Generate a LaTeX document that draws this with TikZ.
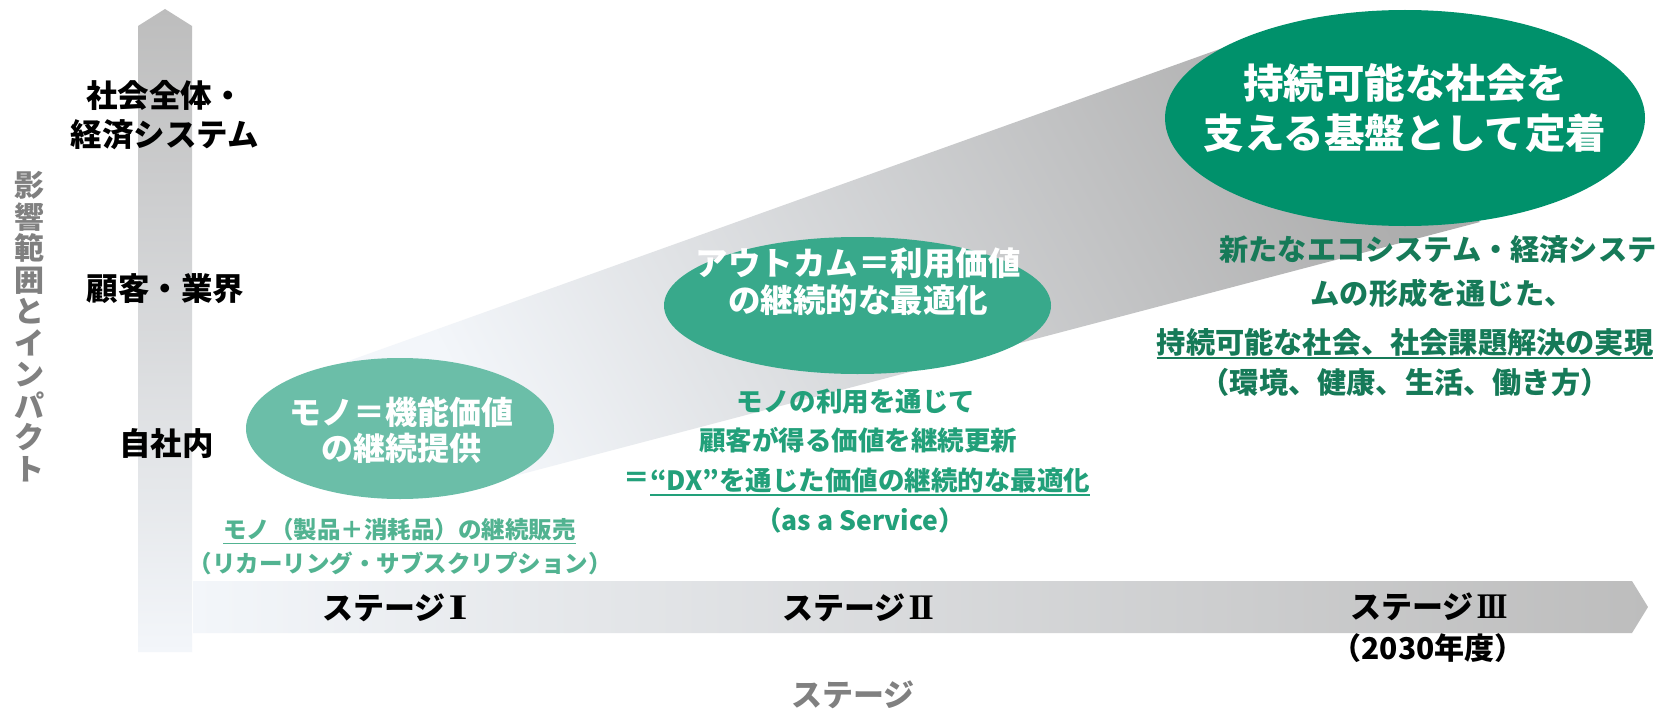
\documentclass[tikz,border=0pt]{standalone}
\usepackage{fontspec}
\usepackage{graphicx}
\setmainfont{Noto Sans CJK JP}
\newfontfamily\romfont{Liberation Serif}
\usetikzlibrary{shapes.geometric}
\definecolor{axdark}{HTML}{BDBDBD}
\definecolor{axlight}{HTML}{F3F6FA}
\definecolor{eA}{HTML}{6BBEA8}
\definecolor{eB}{HTML}{38A98B}
\definecolor{eC}{HTML}{00916B}
\definecolor{tA}{HTML}{52B391}
\definecolor{tB}{HTML}{22A07A}
\definecolor{tC}{HTML}{167A58}
\definecolor{axgray}{HTML}{808080}
\newcommand{\romnum}[2]{\hspace{0.1em}{\romfont\bfseries\fontsize{36}{36}\selectfont\scalebox{#1}[1]{#2}}}
\tikzset{
  txt/.style={inner sep=0, align=center, font=\bfseries\fontsize{#1}{#1}\selectfont},
  blob/.style={ellipse, inner sep=0, draw=none, fill=#1},
  uline/.style={line width=1.6pt, #1}
}
\begin{document}
\begin{tikzpicture}[x=1pt,y=-1pt]
\useasboundingbox (0,0) rectangle (1665,709);
\fill[white] (0,0) rectangle (1665,709);

% vertical axis arrow
\shade[top color=axdark, bottom color=axlight]
  (138,652) -- (138,26) -- (165,9) -- (192,26) -- (192,652) -- cycle;
% horizontal axis arrow
\shade[left color=axlight, right color=axdark]
  (193,581) -- (1632,581) -- (1648,607) -- (1632,633) -- (193,633) -- cycle;

% gray beam
\shade[top color=black!32, bottom color=axlight, shading angle=-62]
  (330,367.6) -- (1260,34.6) -- (1480,222) -- (480,485) -- cycle;

% ellipses
\node[blob=eA, minimum width=308, minimum height=141] (e1) at (400,428.5) {};
\node[blob=eB, minimum width=387, minimum height=137] (e2) at (857.5,305.5) {};
\node[blob=eC, minimum width=480, minimum height=216] (e3) at (1405,118) {};

\node[txt={32}, text=white, font=\bfseries\fontsize{32}{36}\selectfont] (t1) at (401,430) {モノ＝機能価値\\の継続提供};
\node[txt={32.5}, text=white, font=\bfseries\fontsize{32.5}{37}\selectfont] (t2) at (858,281.5) {アウトカム＝利用価値\\の継続的な最適化};
\node[txt={40.5}, text=white, font=\bfseries\fontsize{40.5}{50}\selectfont] (t3) at (1405,108) {持続可能な社会を\\支える基盤として定着};

% vertical axis labels
\node[txt={30}, text=axgray, font=\bfseries\fontsize{30}{31.5}\selectfont] (vlab) at (29,326.5)
  {影\\響\\範\\囲\\と\\イ\\ン\\パ\\ク\\ト};
\node[txt={31.5}, font=\bfseries\fontsize{31.5}{39}\selectfont] (l1) at (165,115.5) {社会全体・\\経済システム};
\node[txt={31.5}] (l2) at (165.5,289) {顧客・業界};
\node[txt={31.5}] (l3) at (166.5,444) {自社内};

% stage labels
\node[txt={31}, anchor=west] (s1) at (322,608) {ステージ\romnum{1.35}{I}};
\node[txt={31}, anchor=west] (s2) at (782,608) {ステージ\romnum{1.0}{I\kern-0.08em I}};
\node[txt={31}, anchor=west] (s3) at (1350,607) {ステージ\romnum{0.85}{I\kern-0.08em I\kern-0.08em I}};
\node[txt={30}] (s3y) at (1428,648) {（2030年度）};
\node[txt={31}, text=axgray] (sx) at (853,695) {ステージ};

% texts under ellipse 1
\node[txt={23.5}, text=tA] (a1) at (399.5,530) {モノ（製品＋消耗品）の継続販売};
\node[txt={23.5}, text=tA] (a2) at (400,563) {（リカーリング・サブスクリプション）};
\draw[uline=tA] ([yshift=-2]a1.south west) -- ([yshift=-2]a1.south east);

% texts under ellipse 2
\node[txt={26.5}, text=tB] (b1) at (856,402) {モノの利用を通じて};
\node[txt={26.5}, text=tB] (b2) at (858,440) {顧客が得る価値を継続更新};
\node[txt={26.5}, text=tB, anchor=west] (b3) at (650,480) {“DX”を通じた価値の継続的な最適化};
\node[txt={26.5}, text=tB, anchor=east] (b3eq) at (b3.west) {＝};
\node[txt={26.5}, text=tB] (b4) at (860,520) {（as a Service）};
\draw[uline=tB] ([yshift=-2]b3.south west) -- ([yshift=-2]b3.south east);

% texts under ellipse 3
\node[txt={29.2}, text=tC] (c1) at (1438,250) {新たなエコシステム・経済システ};
\node[txt={29.2}, text=tC] (c2) at (1442,293) {ムの形成を通じた、};
\node[txt={29.2}, text=tC] (c3) at (1405,342) {持続可能な社会、社会課題解決の実現};
\node[txt={29.2}, text=tC] (c4) at (1405,382) {（環境、健康、生活、働き方）};
\draw[uline=tC] ([yshift=-2]c3.south west) -- ([yshift=-2]c3.south east);
\end{tikzpicture}
\end{document}
